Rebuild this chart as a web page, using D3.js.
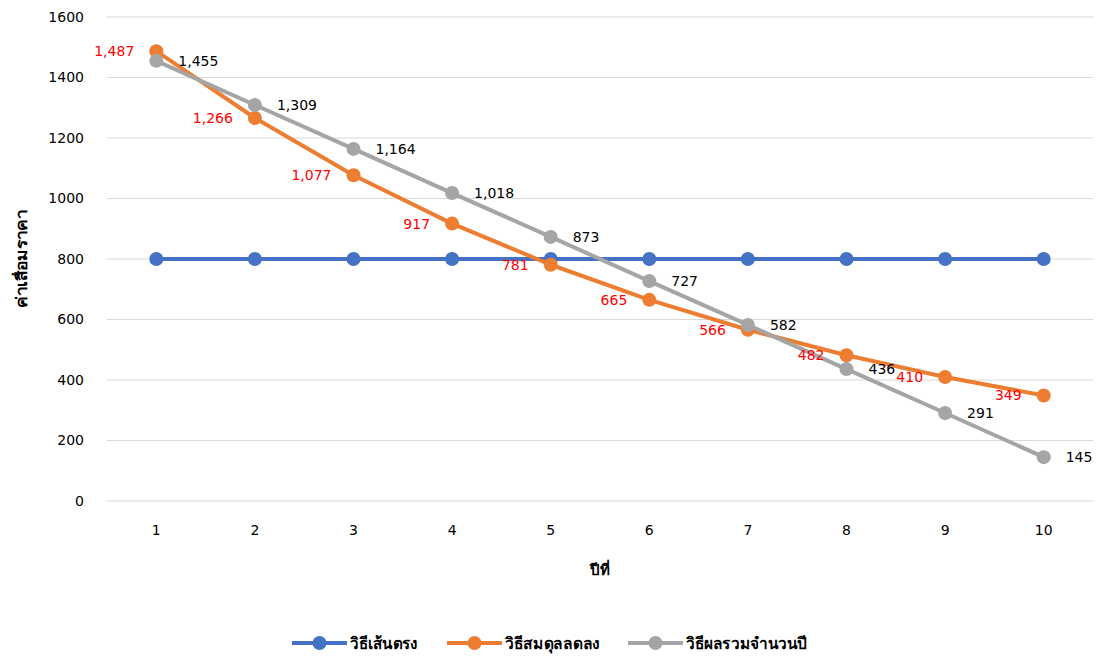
<!DOCTYPE html>
<html><head><meta charset="utf-8">
<script src="https://cdn.jsdelivr.net/npm/d3@7"></script>
<style>body{margin:0;background:#fff;} text{font-family:Tahoma,"DejaVu Sans","Noto Sans",sans-serif;}</style>
</head><body><svg id="c" width="1096" height="657"></svg>
<script>
const years = [1,2,3,4,5,6,7,8,9,10];
const straightLine = [800,800,800,800,800,800,800,800,800,800];
const decliningBalance = [1487,1266,1077,917,781,665,566,482,410,349];
const sumOfYears = [1455,1309,1164,1018,873,727,582,436,291,145];
const yTicks = [0,200,400,600,800,1000,1200,1400,1600];
const seriesNames = ["วิธีเส้นตรง","วิธีสมดุลลดลง","วิธีผลรวมจำนวนปี"];
const xTitle = "ปีที่";
const yTitle = "ค่าเสื่อมราคา";

const colors = ["#4472C4","#ED7D31","#A5A5A5"];
const series = [
  {name: seriesNames[0], values: straightLine, color: colors[0], label: null},
  {name: seriesNames[1], values: decliningBalance, color: colors[1], label: "left"},
  {name: seriesNames[2], values: sumOfYears, color: colors[2], label: "right"}
];

const svg = d3.select("#c");
const x = d3.scaleBand().domain(years).range([107,1093]);
const y = d3.scaleLinear().domain([0,1600]).range([501,17]);
const cx = d => x(d) + x.bandwidth()/2;

// gridlines
svg.append("g").selectAll("line").data(yTicks).join("line")
  .attr("x1",107).attr("x2",1093).attr("y1",d=>y(d)).attr("y2",d=>y(d))
  .attr("stroke","#d9d9d9").attr("stroke-width",1);

// y axis
const yAxis = svg.append("g").attr("transform","translate(90,0)")
  .call(d3.axisLeft(y).tickValues(yTicks).tickFormat(d3.format("d")).tickSize(0).tickPadding(6));
yAxis.select(".domain").remove();
yAxis.selectAll("text").attr("font-size",14).attr("fill","#000").style("font-family","Tahoma,'DejaVu Sans',sans-serif");

// x axis
const xAxis = svg.append("g").attr("transform","translate(0,520)")
  .call(d3.axisBottom(x).tickSize(0).tickPadding(5));
xAxis.select(".domain").remove();
xAxis.selectAll("text").attr("font-size",14).attr("fill","#000").style("font-family","Tahoma,'DejaVu Sans',sans-serif");

// titles
svg.append("text").attr("x",600).attr("y",575).attr("text-anchor","middle")
  .attr("font-size",15).attr("font-weight","bold").text(xTitle);
svg.append("text").attr("transform","translate(27,259) rotate(-90)").attr("text-anchor","middle")
  .attr("font-size",15).attr("font-weight","bold")
  .attr("textLength",98).attr("lengthAdjust","spacingAndGlyphs").text(yTitle);

const line = d3.line().x((d,i)=>cx(years[i])).y(d=>y(d));

series.forEach(s => {
  const g = svg.append("g");
  g.append("path").datum(s.values).attr("d",line).attr("fill","none")
    .attr("stroke",s.color).attr("stroke-width",4).attr("stroke-linejoin","round");
  g.selectAll("circle").data(s.values).join("circle")
    .attr("cx",(d,i)=>cx(years[i])).attr("cy",d=>y(d)).attr("r",7).attr("fill",s.color);
});

// labels
series.forEach(s => {
  if (!s.label) return;
  svg.append("g").selectAll("text").data(s.values).join("text")
    .attr("x",(d,i)=>cx(years[i]) + (s.label==="left" ? -22 : 22))
    .attr("y",d=>y(d)+5)
    .attr("text-anchor", s.label==="left" ? "end" : "start")
    .attr("font-size",14)
    .attr("fill", s.label==="left" ? "#FF0000" : "#000")
    .text(d=>d3.format(",")(d));
});

// legend
const legendLayout = [{x:292, w:68},{x:447, w:95},{x:628, w:121}];
series.forEach((s,i) => {
  const L = legendLayout[i];
  const g = svg.append("g").attr("transform",`translate(${L.x},643)`);
  g.append("line").attr("x1",0).attr("x2",55).attr("stroke",s.color).attr("stroke-width",4);
  g.append("circle").attr("cx",27.5).attr("r",7).attr("fill",s.color);
  g.append("text").attr("x",58).attr("y",6).attr("font-size",16).attr("font-weight","bold")
    .attr("textLength",L.w).attr("lengthAdjust","spacingAndGlyphs").text(s.name);
});
</script></body></html>
